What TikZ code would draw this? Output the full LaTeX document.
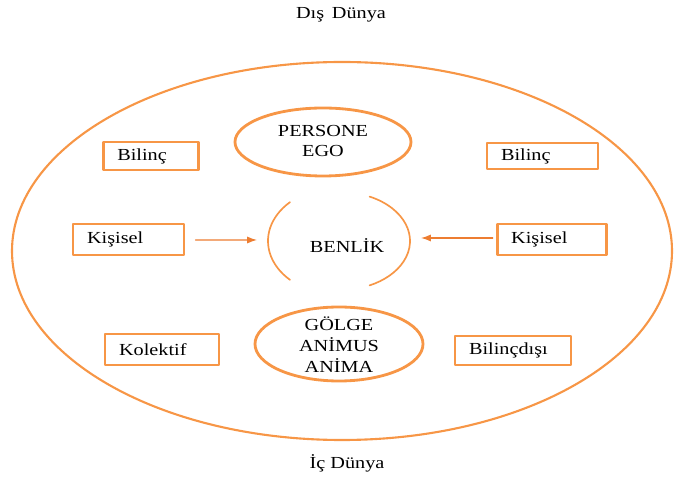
\documentclass[tikz,border=0pt]{standalone}
\usepackage{fontspec}
\setmainfont{Liberation Serif}[FakeStretch=1.2]
\usetikzlibrary{arrows.meta}
\definecolor{turuncu}{HTML}{F79646}
\definecolor{koyuturuncu}{HTML}{ED7D31}
\begin{document}
\begin{tikzpicture}[
  x=0.025cm,
  y=-0.025cm,
  line cap=round,
  line join=round,
  yazi/.style={font=\fontsize{12}{14.9}\selectfont, align=center, inner sep=0pt},
  kutu/.style={draw=turuncu, line width=2pt, inner xsep=10pt, inner ysep=0pt,
    align=left, font=\fontsize{12}{14}\selectfont},
  elips/.style={draw=turuncu, line width=2pt},
  ok/.style={draw=koyuturuncu, line width=0.8pt, -{Latex[length=7pt,width=5pt]}}
]
  \useasboundingbox (0,0) rectangle (677,477);

  % Dış ve iç dünya
  \node[yazi] (dis) at (341,15) {Dış\, Dünya};
  \node[yazi] (ic) at (347,463) {İç Dünya};

  % Büyük elips
  \coordinate (merkez) at (342,251);
  \draw[turuncu, line width=1.5pt] (merkez) ellipse [x radius=330, y radius=189];

  % Persone ve gölge
  \node[yazi] (persone) at (323,141) {PERSONE\\EGO};
  \draw[elips] (323,142) ellipse [x radius=88, y radius=34];

  \node[yazi] (golge) at (339,345) {GÖLGE\\ANİMUS\\ANİMA};
  \draw[elips] (339,344) ellipse [x radius=84, y radius=37];

  % Benlik
  \node[yazi] (benlik) at (347,246) {BENLİK};
  \coordinate (yay) at (340,241);
  \draw[turuncu, line width=1.2pt] (yay) ++(134:72 and 54)
    arc[start angle=134, end angle=226, x radius=72, y radius=54];
  \draw[turuncu, line width=1.2pt] (yay) ++(-65:70 and 49)
    arc[start angle=-65, end angle=65, x radius=70, y radius=49];

  % Kutular
  \node[kutu, text width=48pt, minimum height=20pt] (bilincSol) at (151,156) {Bilinç};
  \node[kutu, text width=59pt, minimum height=18.5pt] (bilincSag) at (542.5,156) {Bilinç};
  \node[kutu, text width=59pt, minimum height=22pt] (kisiselSol) at (128.5,239.5) {Kişisel};
  \node[kutu, text width=58pt, minimum height=22pt] (kisiselSag) at (552,239.5) {Kişisel};
  \node[kutu, text width=61pt, minimum height=22pt] (kolektif) at (162,349.5) {Kolektif};
  \node[kutu, text width=62.5pt, minimum height=20.6pt] (bilincdisi) at (513,350.5) {Bilinçdışı};

  % Oklar
  \coordinate (okSol) at (257,240);
  \coordinate (okSag) at (421,238);
  \draw[ok] (kisiselSol.east) ++(10,0.5) -- (okSol);
  \draw[ok] (kisiselSag.west) ++(-3,-1.5) -- (okSag);
\end{tikzpicture}
\end{document}
